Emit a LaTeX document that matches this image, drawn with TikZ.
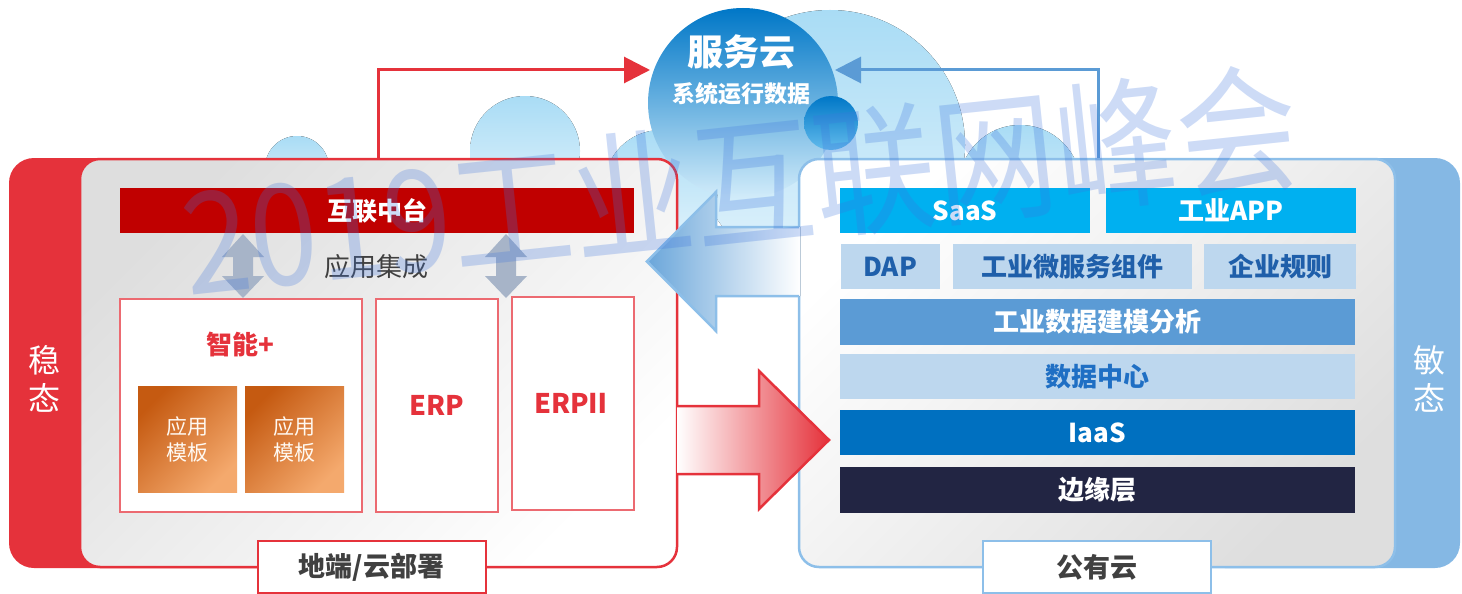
\documentclass[tikz,border=0pt]{standalone}
\usepackage{fontspec}
\setmainfont{Noto Sans CJK SC}
\usetikzlibrary{arrows.meta}
\definecolor{cred}{HTML}{E5323B}
\definecolor{cboxred}{HTML}{EC6A71}
\definecolor{dred}{HTML}{C00000}
\definecolor{cblueband}{HTML}{85B8E4}
\definecolor{cblueline}{HTML}{8DBFE9}
\definecolor{cbluearrowline}{HTML}{5B9BD5}
\definecolor{csaas}{HTML}{00B0F0}
\definecolor{clight}{HTML}{BDD7EE}
\definecolor{cmid}{HTML}{5B9BD5}
\definecolor{ciaas}{HTML}{0070C0}
\definecolor{cedge}{HTML}{222543}
\definecolor{ctxtblue}{HTML}{1F5FAA}
\definecolor{ctxtblue2}{HTML}{1F6FC4}
\definecolor{cgray}{HTML}{404040}
\definecolor{carrowgray}{HTML}{A7B4C8}
\definecolor{corange1}{HTML}{C55A11}
\definecolor{corange2}{HTML}{F4A96D}
\definecolor{cbub1}{HTML}{A9DCF5}
\definecolor{cbub2}{HTML}{E2F3FC}
\definecolor{cdark1}{HTML}{0077C7}
\definecolor{cdarkm}{HTML}{4AADE6}
\definecolor{cdark2}{HTML}{D2ECFA}
\definecolor{csmall2}{HTML}{62BBEC}
\definecolor{cwm}{HTML}{3D74DD}
\definecolor{carrowblue}{HTML}{6AA6DA}
\definecolor{cpanelgray}{HTML}{DEDEDE}
\tikzset{
  fs/.style={font=\fontsize{#1}{#1}\selectfont},
  fb/.style={font=\bfseries\fontsize{#1}{#1}\selectfont},
  box/.style={rectangle, inner sep=0pt, outer sep=0pt},
  layer/.style={box, fill=#1, text=white, fb=26},
  lightlayer/.style={box, fill=clight, text=#1, fb=26},
  appbox/.style={box, draw=cboxred, line width=1.5pt, fill=white},
  tplbox/.style={box, top color=corange1, bottom color=corange2, shading angle=45,
                 text=white!95!orange, align=center, font=\fontsize{21}{26}\selectfont,
                 minimum width=99pt, minimum height=106pt},
  bubble/.style={top color=cbub1, bottom color=cbub2},
  sidetext/.style={text=white, align=center, font=\fontsize{32}{38}\selectfont},
  labelbox/.style={box, fill=white, line width=2pt, text=cgray, fb=27,
                   minimum width=228pt, minimum height=52pt},
  dbl/.style={fill=carrowgray},
  conn/.style={line width=3pt, -{Triangle[length=26pt,width=26pt]}},
}
\begin{document}
\begin{tikzpicture}[x=1pt,y=-1pt]
\useasboundingbox (0,0) rectangle (1462,594);

% background bubbles
\fill[bubble] (830,145) circle (135pt);
\fill[bubble] (525,151) circle (55pt);
\fill[bubble] (661,187) circle (57pt);
\fill[bubble] (1020,186) circle (61pt);
\fill[bubble] (297,168) circle (32pt);

% service cloud
\node[circle, minimum size=190pt, inner sep=0pt, top color=cdark1, middle color=cdarkm, bottom color=cdark2] (cloud) at (743,103) {};
\node[circle, minimum size=54pt, inner sep=0pt, top color=cdark1, bottom color=csmall2] (cloudsmall) at (831,123) {};
\node[text=white, fb=36] (fwy) at (741,52) {服务云};
\node[text=white, fb=23] (xtyx) at (741,94) {系统运行数据};

% left panel
\fill[cred, rounded corners=25pt] (9,158) rectangle (400,568);
\draw[cred, line width=2.5pt, rounded corners=20pt, top color=cpanelgray, middle color=white, bottom color=white, shading angle=45]
  (80,159) rectangle (677,567);

% right panel
\fill[cblueband, rounded corners=25pt] (1200,158) rectangle (1460,568);
\draw[cblueline, line width=2.5pt, rounded corners=20pt, top color=white, middle color=white!60!cpanelgray, bottom color=cpanelgray, shading angle=45]
  (799,159) rectangle (1395,567);

% connectors to the cloud
\coordinate (rstart) at (378,158);
\coordinate (rtip) at (650,70);
\coordinate (bstart) at (1098,158);
\coordinate (btip) at (835,70);
\draw[conn, cred] (rstart) |- (rtip);
\draw[conn, cbluearrowline] (bstart) |- (btip);

% left content
\node[box, fill=dred, text=white, fb=25, minimum width=514pt, minimum height=45pt] (hlzt) at (377,210.5) {互联中台};
\node[text=cgray, fs=26] (yyjc) at (376,267) {应用集成};
\foreach \cx in {243,506}{
  \begin{scope}[shift={(\cx,0)}]
  \fill[dbl] (0,234) -- (21,257) -- (10,257) -- (10,276) -- (21,276) -- (0,298) -- (-21,276) -- (-10,276) -- (-10,257) -- (-21,257) -- cycle;
  \end{scope}
}
\node[appbox, minimum width=242pt, minimum height=213pt] (znbox) at (241,405.5) {};
\node[text=cred, fb=26] (zn) at (240,345) {智能+};
\node[tplbox] (mb1) at (187.5,439) {应用\\模板};
\node[tplbox] (mb2) at (294.5,439) {应用\\模板};
\node[appbox, minimum width=122pt, minimum height=213pt, text=cred, fb=27] (erp) at (437,405.5) {ERP};
\node[appbox, minimum width=122pt, minimum height=213pt, text=cred, fb=27] (erp2) at (573,403.5) {ERP\kern-5pt Ⅱ};
\node[sidetext] (wt) at (44,379) {稳\\态};

% right content
\node[layer=csaas, minimum width=250pt, minimum height=45pt] (saas) at (965,210.5) {SaaS};
\node[layer=csaas, minimum width=250pt, minimum height=45pt] (app) at (1231,210.5) {工业APP};
\node[lightlayer=ctxtblue, minimum width=99pt, minimum height=45pt] (dap) at (890,266.5) {DAP};
\node[lightlayer=ctxtblue, minimum width=239pt, minimum height=45pt] (wfw) at (1072.5,266.5) {工业微服务组件};
\node[lightlayer=ctxtblue, minimum width=152pt, minimum height=45pt] (qygz) at (1280,266.5) {企业规则};
\node[layer=cmid, minimum width=515pt, minimum height=46pt] (jmfx) at (1097.5,322) {工业数据建模分析};
\node[lightlayer=ctxtblue2, minimum width=515pt, minimum height=45pt] (sjzx) at (1097.5,376.5) {数据中心};
\node[layer=ciaas, minimum width=515pt, minimum height=45pt] (iaas) at (1097.5,432.5) {IaaS};
\node[layer=cedge, minimum width=515pt, minimum height=46pt] (byc) at (1097.5,490) {边缘层};
\node[sidetext] (mt) at (1429,379) {敏\\态};

% big red arrow (left -> right)
\fill[left color=white, right color=cred] (677,406) -- (759,406) -- (759,371) -- (829,440) -- (759,509) -- (759,474) -- (677,474) -- cycle;
\draw[cred, line width=2.5pt, line join=miter] (677,406) -- (759,406) -- (759,371) -- (829,440) -- (759,509) -- (759,474) -- (677,474);

% big blue arrow (right -> left)
\fill[left color=carrowblue, right color=white] (800,227) -- (716,227) -- (716,192) -- (647,261.5) -- (716,331) -- (716,296) -- (800,296) -- cycle;
\draw[cblueline, line width=2.5pt, line join=miter] (799,227) -- (716,227) -- (716,192) -- (647,261.5) -- (716,331) -- (716,296) -- (799,296);

% bottom labels
\node[labelbox, draw=cred] (ldlabel) at (371.5,567) {地端/云部署};
\node[labelbox, draw=cblueline] (gyy) at (1097,567) {公有云};

% watermark
\node[text=cwm, opacity=0.26, rotate=6, xscale=0.95, yscale=1.1, font=\fontsize{128}{128}\selectfont] (wm) at (740,184) {2019工业互联网峰会};
\end{tikzpicture}
\end{document}
